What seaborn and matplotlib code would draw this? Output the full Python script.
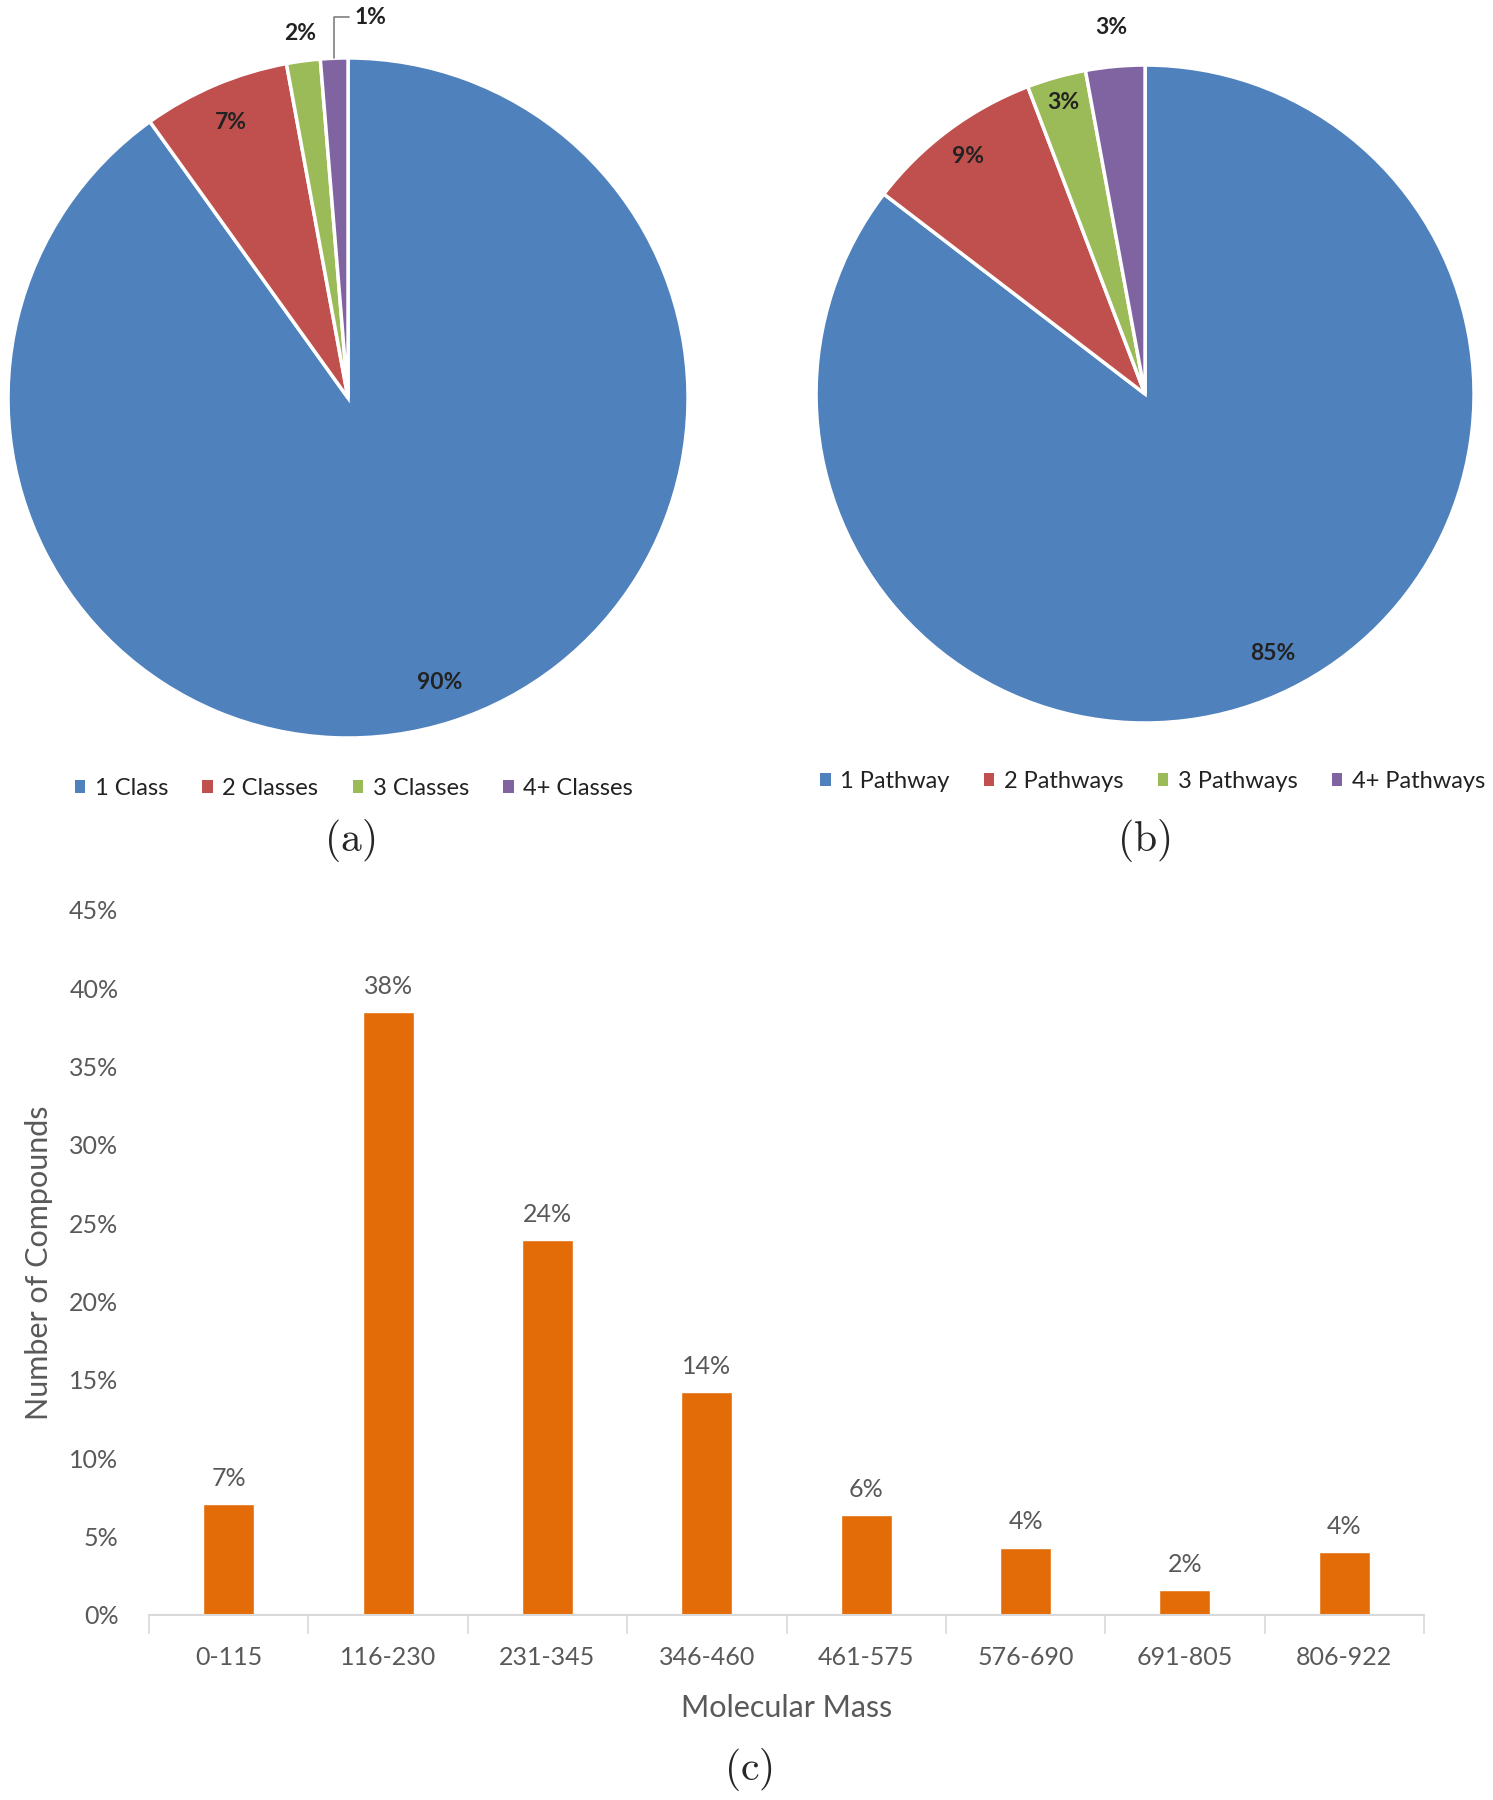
import numpy as np
import pandas as pd
import seaborn as sns
import matplotlib
matplotlib.use("Agg")
from matplotlib import pyplot as plt
from matplotlib.patches import Patch

# data
class_labels = ["1 Class", "2 Classes", "3 Classes", "4+ Classes"]
class_share = [90.1, 7.0, 1.6, 1.3]

pathway_labels = ["1 Pathway", "2 Pathways", "3 Pathways", "4+ Pathways"]
pathway_share = [85.4, 8.8, 2.9, 2.9]

mass_bins = ["0-115", "116-230", "231-345", "346-460", "461-575", "576-690", "691-805", "806-922"]
mass_share = [7.1, 38.5, 23.9, 14.2, 6.4, 4.3, 1.6, 4.0]

pie_colors = ["#4F81BD", "#C0504D", "#9BBB59", "#8064A2"]
bar_color = "#E36C09"
grey = "#595959"

sns.set_theme(style="white")
plt.rcParams['font.family'] = ['Lato', 'DejaVu Sans']
plt.rcParams['mathtext.fontset'] = 'cm'


def draw_pie(ax, values, radii, leader=None):
    wedges, _ = ax.pie(values, colors=pie_colors, startangle=90, counterclock=False,
                       wedgeprops=dict(edgecolor="white", linewidth=2.5))
    for i, (w, v) in enumerate(zip(wedges, values)):
        theta = np.deg2rad((w.theta1 + w.theta2) / 2)
        txt = f"{round(v):d}%"
        if leader is not None and i == leader:
            ax.annotate(txt, xy=(np.cos(theta), np.sin(theta)), xytext=(0.02, 1.12),
                        ha="left", va="center", fontsize=16.5, fontweight="bold", color="#222222",
                        arrowprops=dict(arrowstyle="-", color="#7f7f7f", lw=1.2,
                                        connectionstyle="angle,angleA=0,angleB=90,rad=0",
                                        shrinkA=2, shrinkB=0))
            continue
        r = radii[i]
        ax.text(r * np.cos(theta), r * np.sin(theta), txt, ha="center", va="center",
                fontsize=16.5, fontweight="bold", color="#222222")
    ax.set_xlim(-1, 1)
    ax.set_ylim(-1, 1)
    ax.set_aspect("equal")
    ax.axis("off")


fig = plt.figure(figsize=(14.93, 18), dpi=100)

ax_a = fig.add_axes([0.00536, 0.59, 0.4555, 0.3778])
draw_pie(ax_a, class_share, [0.88, 0.88, 1.08, 1.1], leader=3)

ax_b = fig.add_axes([0.5466, 0.5983, 0.4407, 0.3656])
draw_pie(ax_b, pathway_share, [0.88, 0.9, 0.92, 1.12])

for labels, x, y in [(class_labels, 0.237, 0.562), (pathway_labels, 0.772, 0.566)]:
    handles = [Patch(facecolor=c, edgecolor="none") for c in pie_colors]
    fig.legend(handles, labels, loc="center", bbox_to_anchor=(x, y), ncol=4, frameon=False,
               fontsize=17, handlelength=0.45, handleheight=0.45, handletextpad=0.4,
               columnspacing=1.45, labelcolor="#222222")

# bar chart
ax_c = fig.add_axes([0.0998, 0.1028, 0.854, 0.3917])
df = pd.DataFrame({"bin": mass_bins, "share": mass_share})
sns.barplot(data=df, x="bin", y="share", color=bar_color, saturation=1, width=0.32, ax=ax_c)
for p, v in zip(ax_c.patches, mass_share):
    ax_c.text(p.get_x() + p.get_width() / 2, v + 0.9, f"{round(v):d}%", ha="center", va="bottom",
              fontsize=18, color=grey)
ax_c.set_ylim(0, 45)
ax_c.set_xlim(-0.5, len(mass_bins) - 0.5)
ax_c.set_yticks(np.arange(0, 46, 5))
ax_c.set_yticklabels([f"{t}%" for t in range(0, 46, 5)])
ax_c.set_xticks(np.arange(-0.5, len(mass_bins), 1), minor=True)
ax_c.tick_params(axis="x", which="major", length=0, pad=22, labelsize=18, labelcolor=grey)
ax_c.tick_params(axis="x", which="minor", length=14, width=1.2, color="#d9d9d9", direction="out", bottom=True)
ax_c.tick_params(axis="y", length=0, pad=22, labelsize=18, labelcolor=grey)
for s in ["top", "right", "left"]:
    ax_c.spines[s].set_visible(False)
ax_c.spines["bottom"].set_color("#d9d9d9")
ax_c.spines["bottom"].set_linewidth(1.5)
ax_c.set_xlabel("Molecular Mass", fontsize=22, color=grey, labelpad=18)
ax_c.set_ylabel("Number of Compounds", fontsize=22, color=grey, labelpad=12)

for txt, x, y in [("(a)", 0.234, 0.533), ("(b)", 0.766, 0.533), ("(c)", 0.501, 0.017)]:
    fig.text(x, y, r"$\mathrm{" + txt + "}$", ha="center", va="center", fontsize=30)

fig.savefig("out.png", dpi=100)
